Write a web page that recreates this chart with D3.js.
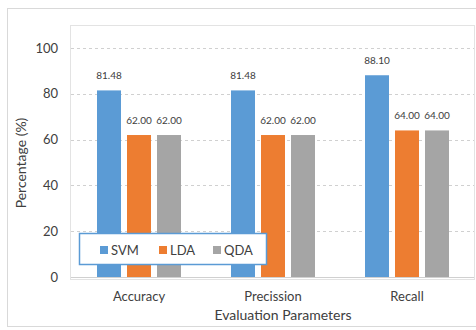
<!DOCTYPE html>
<html>
<head>
<meta charset="utf-8">
<script src="https://cdn.jsdelivr.net/npm/d3@7"></script>
<style>
  html, body { margin: 0; padding: 0; background: #fff; }
  svg { display: block; font-family: Lato, "Open Sans", sans-serif; }
</style>
</head>
<body>
<svg id="chart" width="476" height="330"></svg>
<script>
// Evaluation metrics per classifier
const categories = ["Accuracy", "Precission", "Recall"];
const seriesNames = ["SVM", "LDA", "QDA"];
const svmValues = [81.48, 81.48, 88.10];
const ldaValues = [62.00, 62.00, 64.00];
const qdaValues = [62.00, 62.00, 64.00];
const yTicks = [0, 20, 40, 60, 80, 100];
const seriesColors = ["#5B9BD5", "#ED7D31", "#A5A5A5"];

const seriesValues = [svmValues, ldaValues, qdaValues];
const rows = categories.map((c, i) => ({
  category: c,
  values: seriesNames.map((s, j) => ({ series: s, value: seriesValues[j][i] }))
}));

const svg = d3.select("#chart");
const textColor = "#404040";

// Chart frame
svg.append("rect").attr("x", 7.5).attr("y", 8.5).attr("width", 480).attr("height", 318)
  .attr("fill", "#fff").attr("stroke", "#d9d9d9").attr("stroke-width", 1);

// Plot area frame
const plot = { left: 70, right: 474, top: 25, bottom: 279 };
svg.append("rect")
  .attr("x", plot.left + 0.5).attr("y", plot.top + 0.5)
  .attr("width", plot.right - plot.left).attr("height", plot.bottom - plot.top)
  .attr("fill", "#fff").attr("stroke", "#e3e3e3").attr("stroke-width", 1);

const x = d3.scaleBand().domain(categories).range([72, 474]).paddingInner(0).paddingOuter(0);
const groupWidth = 84;
const xSub = d3.scaleBand().domain(seriesNames).range([0, groupWidth]).paddingInner(0.2).paddingOuter(0);
const y = d3.scaleLinear().domain([0, 100]).range([277, 48]);
const color = d3.scaleOrdinal().domain(seriesNames).range(seriesColors);

// Gridlines
svg.append("g").selectAll("line")
  .data(yTicks.filter(t => t > 0))
  .join("line")
  .attr("x1", plot.left + 1).attr("x2", plot.right)
  .attr("y1", d => Math.round(y(d)) + 0.5).attr("y2", d => Math.round(y(d)) + 0.5)
  .attr("stroke", "#d0d0d0").attr("stroke-width", 1).attr("stroke-dasharray", "3,3");

// Y axis tick labels
const yAxis = d3.axisLeft(y).tickValues(yTicks).tickSize(0).tickPadding(0);
const yG = svg.append("g").attr("transform", "translate(58,0)").call(yAxis);
yG.select(".domain").remove();
yG.selectAll("text").attr("font-size", 13).attr("fill", textColor)
  .attr("font-family", "Lato, sans-serif");

// Bars
const groupOffset = (x.bandwidth() - groupWidth) / 2;
const groups = svg.append("g").selectAll("g")
  .data(rows).join("g")
  .attr("transform", d => `translate(${x(d.category) + groupOffset},0)`);

groups.selectAll("rect")
  .data(d => d.values).join("rect")
  .attr("x", d => xSub(d.series))
  .attr("y", d => y(d.value))
  .attr("width", xSub.bandwidth())
  .attr("height", d => y(0) - y(d.value))
  .attr("fill", d => color(d.series));

// Value labels
groups.selectAll("text")
  .data(d => d.values).join("text")
  .attr("x", d => xSub(d.series) + xSub.bandwidth() / 2)
  .attr("y", d => y(d.value) - 11)
  .attr("text-anchor", "middle")
  .attr("font-size", 10).attr("fill", textColor)
  .text(d => d.value.toFixed(2));

// Baseline
svg.append("line")
  .attr("x1", plot.left + 1).attr("x2", plot.right)
  .attr("y1", Math.round(y(0)) + 0.5).attr("y2", Math.round(y(0)) + 0.5)
  .attr("stroke", "#d0d0d0").attr("stroke-width", 1);

// Category labels
const xAxis = d3.axisBottom(x).tickSize(0).tickPadding(0);
const xG = svg.append("g").attr("transform", "translate(0,294)").call(xAxis);
xG.select(".domain").remove();
xG.selectAll("text").attr("font-size", 13).attr("fill", textColor)
  .attr("font-family", "Lato, sans-serif").attr("dy", "0.71em")
  .attr("y", -2);

// Axis titles
svg.append("text")
  .attr("x", 283).attr("y", 320)
  .attr("text-anchor", "middle").attr("font-size", 14).attr("fill", textColor)
  .text("Evaluation Parameters");

svg.append("text")
  .attr("transform", "translate(26,163) rotate(-90)")
  .attr("text-anchor", "middle").attr("font-size", 14).attr("fill", textColor)
  .text("Percentage (%)");

// Legend
const legend = svg.append("g");
legend.append("rect")
  .attr("x", 79.5).attr("y", 233.5).attr("width", 187).attr("height", 31)
  .attr("fill", "#fff").attr("stroke", "#5B9BD5").attr("stroke-width", 1.5);

const legendX = [100, 159, 213];
const items = legend.selectAll("g.item")
  .data(seriesNames).join("g").attr("class", "item")
  .attr("transform", (d, i) => `translate(${legendX[i]},246)`);
items.append("rect").attr("width", 8).attr("height", 8).attr("fill", d => color(d));
items.append("text")
  .attr("x", 11).attr("y", 4).attr("dy", "0.35em")
  .attr("font-size", 13).attr("fill", textColor)
  .text(d => d);
</script>
</body>
</html>
